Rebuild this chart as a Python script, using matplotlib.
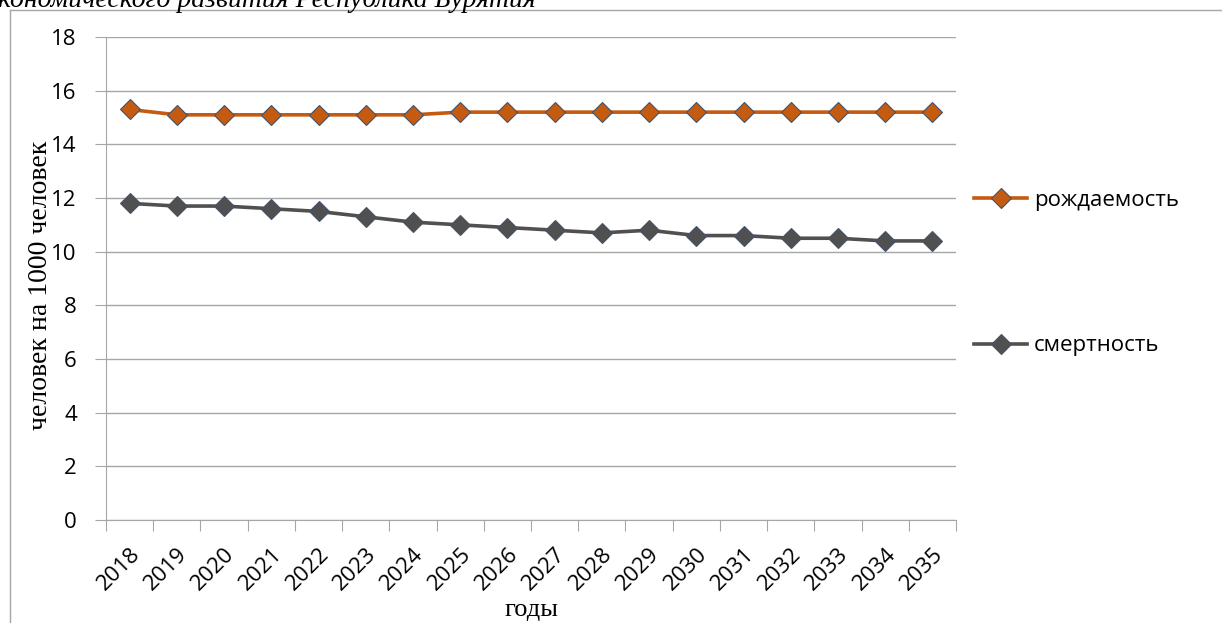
import matplotlib.pyplot as plt
from matplotlib.lines import Line2D

years = [str(y) for y in range(2018, 2036)]
births = [15.3, 15.1, 15.1, 15.1, 15.1, 15.1, 15.1, 15.2, 15.2,
          15.2, 15.2, 15.2, 15.2, 15.2, 15.2, 15.2, 15.2, 15.2]
deaths = [11.8, 11.7, 11.7, 11.6, 11.5, 11.3, 11.1, 11.0, 10.9,
          10.8, 10.7, 10.8, 10.6, 10.6, 10.5, 10.5, 10.4, 10.4]
series_names = ['рождаемость', 'смертность']
y_ticks = list(range(0, 19, 2))

W, H = 1222, 623
fig = plt.figure(figsize=(W / 100, H / 100), dpi=100)
ax = fig.add_axes([106 / W, 1 - 520 / H, (956 - 106) / W, (520 - 37) / H])

grid_c = '#a6a6a6'
orange = '#c55a11'
dark = '#505050'
edge = '#44546a'
tick_font = 'Open Sans'
fs = 16

x = list(range(len(years)))
ax.plot(x, births, color=orange, lw=2.6, marker='D', ms=10,
        mfc=orange, mec=edge, mew=0.8, zorder=3)
ax.plot(x, deaths, color=dark, lw=2.6, marker='D', ms=10,
        mfc=dark, mec=edge, mew=0.8, zorder=3)

ax.set_xlim(-0.5, len(years) - 0.5)
ax.set_ylim(0, 18)
ax.set_yticks(y_ticks)
ax.set_yticklabels([str(v) for v in y_ticks], fontsize=fs, family=tick_font)
ax.yaxis.grid(True, color=grid_c, lw=1)
ax.set_axisbelow(True)

# category ticks sit between the points, labels under the points
ax.set_xticks([i - 0.5 for i in range(len(years) + 1)])
ax.set_xticklabels([])
ax.set_xticks(x, minor=True)
ax.set_xticklabels(years, minor=True, rotation=45, ha='right',
                   rotation_mode='anchor', fontsize=fs, family=tick_font)
ax.tick_params(axis='x', which='minor', length=0, pad=17)
ax.tick_params(axis='x', which='major', length=8, color=grid_c)
ax.tick_params(axis='y', length=8, color=grid_c, pad=13)

for s in ['top', 'right']:
    ax.spines[s].set_visible(False)
for s in ['left', 'bottom']:
    ax.spines[s].set_color(grid_c)

fig.text(41 / W, 1 - 285 / H, 'человек на 1000 человек', rotation=90,
         ha='center', va='center', fontsize=20, family='Liberation Serif')
fig.text(531 / W, 1 - 610 / H, 'годы', ha='center', va='center',
         fontsize=19, family='Liberation Serif')

# cut-off caption from the page above the chart
fig.text(-2 / W, 1 - 7 / H, 'кономического развития Республика Бурятия',
         ha='left', va='baseline', fontsize=20, style='italic',
         family='Liberation Serif')

# chart frame
fig.add_artist(Line2D([10 / W, 1], [1 - 10 / H, 1 - 10 / H], color=grid_c, lw=1))
fig.add_artist(Line2D([10 / W, 10 / W], [0, 1 - 10 / H], color=grid_c, lw=1))

handles = [Line2D([], [], color=orange, lw=2.6, marker='D', ms=10, mfc=orange, mec=edge, mew=0.8),
           Line2D([], [], color=dark, lw=2.6, marker='D', ms=10, mfc=dark, mec=edge, mew=0.8)]
fig.legend(handles, series_names, loc='upper left',
           bbox_to_anchor=(965 / W, 1 - 181 / H), frameon=False,
           prop={'family': tick_font, 'size': fs}, borderaxespad=0,
           labelspacing=5.6, handlelength=2.4, handletextpad=0.3)

fig.savefig('out.png', dpi=100)
